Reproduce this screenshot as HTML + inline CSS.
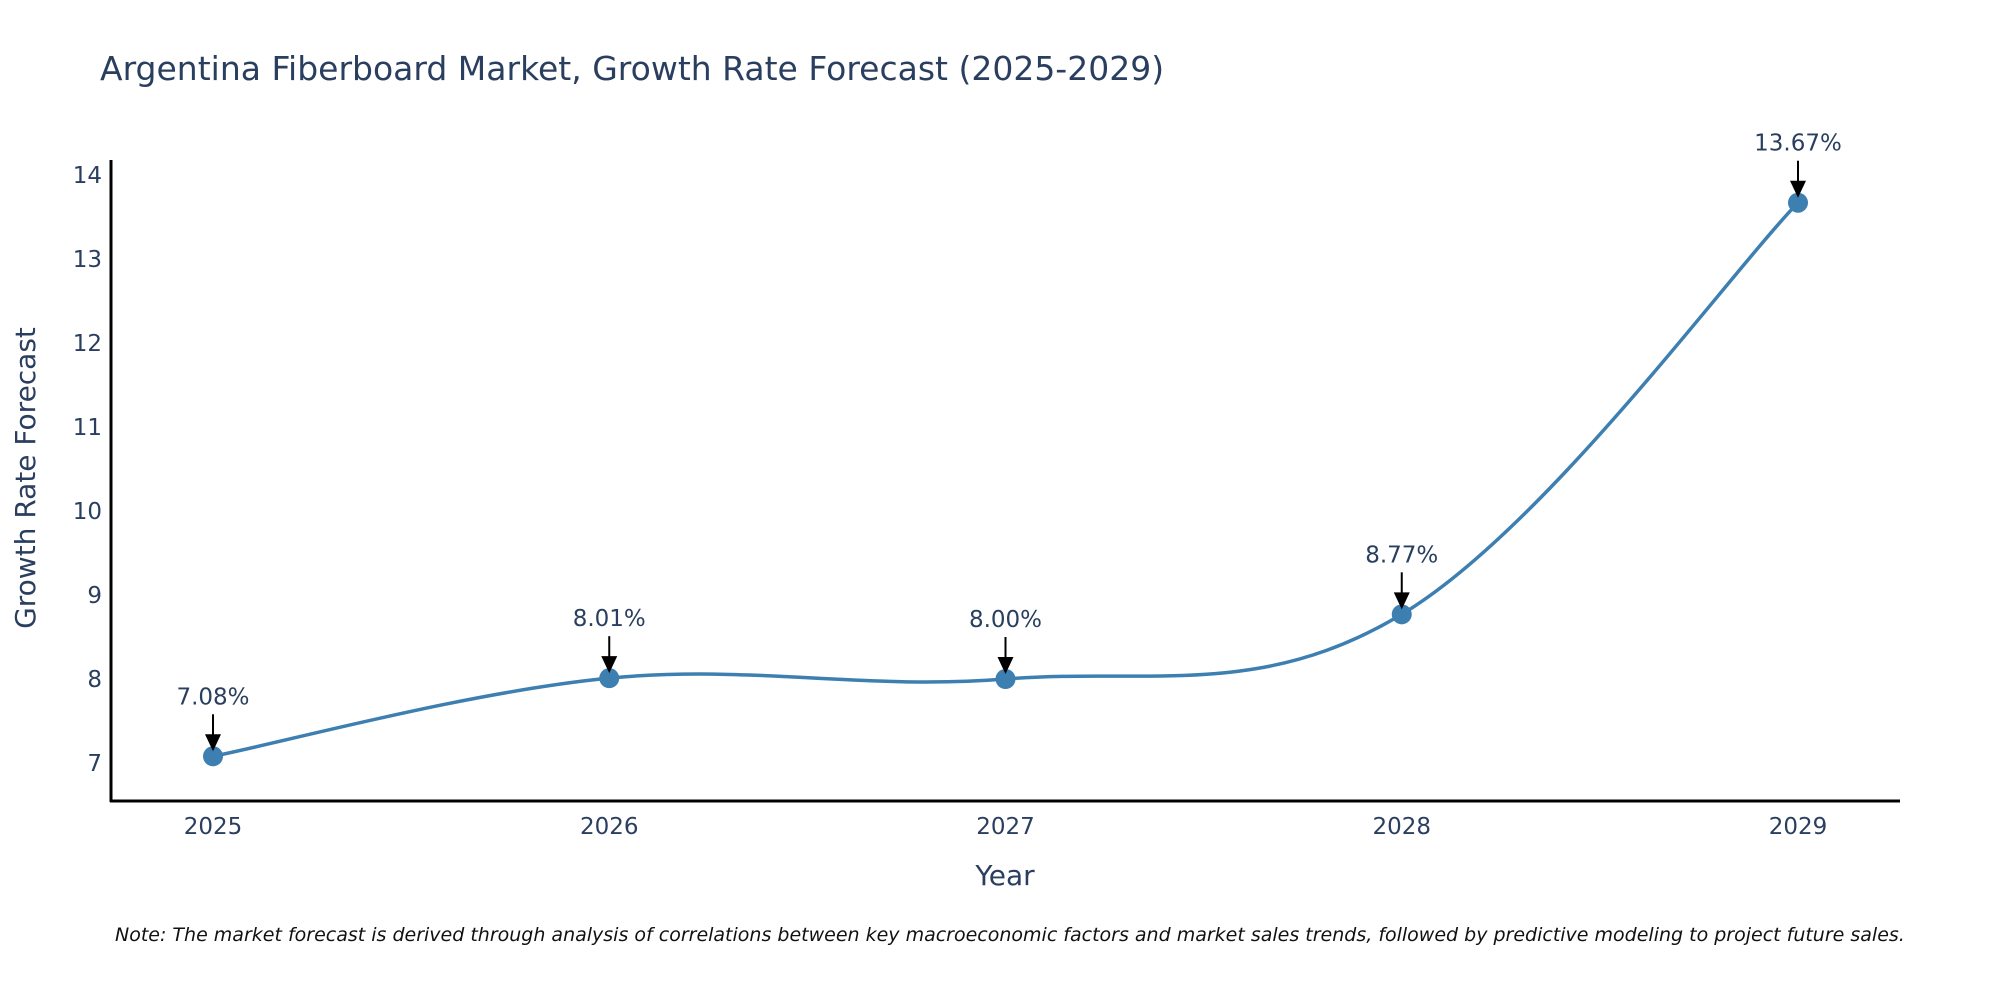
<!DOCTYPE html>
<html><head><meta charset="utf-8"><style>
body{margin:0;background:#fff;}
svg{display:block;font-family:"DejaVu Sans","Liberation Sans",sans-serif;}
</style></head><body>
<svg width="2000" height="1000" viewBox="0 0 2000 1000">
<text x="100" y="80" font-size="33" fill="#2a3f5f">Argentina Fiberboard Market, Growth Rate Forecast (2025-2029)</text>
<g id="yticks"></g>
<g id="xticks"></g>
<line x1="111" y1="160" x2="111" y2="802" stroke="#000" stroke-width="3"/>
<line x1="110" y1="801" x2="1900" y2="801" stroke="#000" stroke-width="3"/>
<text transform="translate(35,478) rotate(-90)" text-anchor="middle" font-size="28" fill="#2a3f5f">Growth Rate Forecast</text>
<text x="1005" y="885" text-anchor="middle" font-size="28" fill="#2a3f5f">Year</text>
<path id="line" fill="none" stroke="#3d7fb0" stroke-width="3.5"/>
<g id="marks"></g>
<text x="115" y="941" font-size="19" font-style="italic" fill="#111">Note: The market forecast is derived through analysis of correlations between key macroeconomic factors and market sales trends, followed by predictive modeling to project future sales.</text>
</svg>
<script>
const years = [2025, 2026, 2027, 2028, 2029];
const rates = [7.08, 8.01, 8.00, 8.77, 13.67];
const labels = ["7.08%", "8.01%", "8.00%", "8.77%", "13.67%"];
const yTicks = [7, 8, 9, 10, 11, 12, 13, 14];

const NS = "http://www.w3.org/2000/svg";
const xs = v => 213 + (v - 2025) * 396.25;
const ys = v => 763 - (v - 7) * 84;
function mk(tag, attrs, parent){const e=document.createElementNS(NS,tag);for(const k in attrs)e.setAttribute(k,attrs[k]);parent.appendChild(e);return e;}

const yg=document.getElementById('yticks');
yTicks.forEach(t=>{
  const e=mk('text',{x:102,y:ys(t)+8,'text-anchor':'end','font-size':23,fill:'#2a3f5f'},yg);
  
  
  e.textContent=t;
});
const xg=document.getElementById('xticks');
years.forEach(y=>{
  const e=mk('text',{x:xs(y),y:834,'text-anchor':'middle','font-size':23,fill:'#2a3f5f'},xg);
  
  
  e.textContent=y;
});

const pts=years.map((y,i)=>[xs(y),ys(rates[i])]);
let d=`M${pts[0][0]},${pts[0][1]}`;
const s=0.18;
for(let i=0;i<pts.length-1;i++){
  const p0=pts[Math.max(0,i-1)],p1=pts[i],p2=pts[i+1],p3=pts[Math.min(pts.length-1,i+2)];
  const c1=[p1[0]+(p2[0]-p0[0])*s,p1[1]+(p2[1]-p0[1])*s];
  const c2=[p2[0]-(p3[0]-p1[0])*s,p2[1]-(p3[1]-p1[1])*s];
  d+=` C${c1[0]},${c1[1]} ${c2[0]},${c2[1]} ${p2[0]},${p2[1]}`;
}
document.getElementById('line').setAttribute('d',d);

const mg=document.getElementById('marks');
pts.forEach((p,i)=>{
  const c=mk('circle',{cx:p[0],cy:p[1],r:10,fill:'#3d7fb0'},mg);
  
  
  const l=mk('line',{x1:p[0],y1:p[1]-42,x2:p[0],y2:p[1]-18,stroke:'#000','stroke-width':2},mg);
  
  
  const a=mk('polygon',{points:`${p[0]-8},${p[1]-22} ${p[0]+8},${p[1]-22} ${p[0]},${p[1]-5}`,fill:'#000'},mg);
  
  
  const t=mk('text',{x:p[0],y:p[1]-52,'text-anchor':'middle','font-size':23,fill:'#2a3f5f'},mg);
  
  
  t.textContent=labels[i];
});
</script>
</body></html>
